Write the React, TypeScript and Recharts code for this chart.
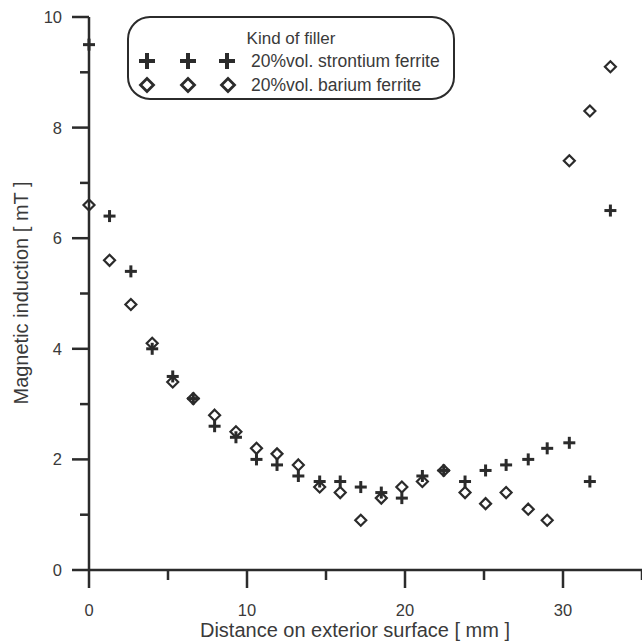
import React from 'react';
import { ScatterChart, Scatter, XAxis, YAxis } from 'recharts';

const distance = [0, 1.3, 2.65, 4.0, 5.3, 6.6, 7.95, 9.3, 10.6, 11.9, 13.25, 14.6, 15.9, 17.2, 18.5, 19.8, 21.1, 22.45, 23.8, 25.1, 26.4, 27.8, 29.0, 30.4, 31.7, 33.0];
const strontium = [9.5, 6.4, 5.4, 4.0, 3.5, 3.1, 2.6, 2.4, 2.0, 1.9, 1.7, 1.6, 1.6, 1.5, 1.4, 1.3, 1.7, 1.8, 1.6, 1.8, 1.9, 2.0, 2.2, 2.3, 1.6, 6.5];
const barium = [6.6, 5.6, 4.8, 4.1, 3.4, 3.1, 2.8, 2.5, 2.2, 2.1, 1.9, 1.5, 1.4, 0.9, 1.3, 1.5, 1.6, 1.8, 1.4, 1.2, 1.4, 1.1, 0.9, 7.4, 8.3, 9.1];

const xTicks = [0, 5, 10, 15, 20, 25, 30, 35];
const xLabeled = [0, 10, 20, 30];
const yTicks = [0, 1, 2, 3, 4, 5, 6, 7, 8, 9, 10];
const yLabeled = [0, 2, 4, 6, 8, 10];

const legendTitle = 'Kind of filler';
const seriesNames = ['20%vol. strontium ferrite', '20%vol. barium ferrite'];
const xTitle = 'Distance on exterior surface [ mm ]';
const yTitle = 'Magnetic induction [ mT ]';

const strontiumData = distance.map((d, i) => ({ x: d, y: strontium[i] }));
const bariumData = distance.map((d, i) => ({ x: d, y: barium[i] }));
const xTickMarks = xTicks.map((v) => ({ x: v, y: 0, major: xLabeled.includes(v) }));
const yTickMarks = yTicks.map((v) => ({ x: 0, y: v, major: yLabeled.includes(v) }));

const INK = '#2b2b2b';
const TEXT = '#3a3a3a';
const FONT = '"Liberation Sans", Arial, Helvetica, sans-serif';

const Plus = ({ cx, cy, size = 6, sw = 3 }: any) => (
  <g>
    <rect x={cx - size} y={cy - sw / 2} width={size * 2} height={sw} fill={INK} />
    <rect x={cx - sw / 2} y={cy - size} width={sw} height={size * 2} fill={INK} />
  </g>
);

const Diamond = ({ cx, cy, size = 5.5, sw = 2.2 }: any) => (
  <polygon
    points={`${cx},${cy - size} ${cx + size},${cy} ${cx},${cy + size} ${cx - size},${cy}`}
    fill="none"
    stroke={INK}
    strokeWidth={sw}
  />
);

const XTickMark = (p: any) => {
  const len = p.payload && p.payload.major ? 18 : 10;
  return <rect x={p.cx - 1.25} y={p.cy} width={2.5} height={len} fill={INK} />;
};

const YTickMark = (p: any) => {
  const len = p.payload && p.payload.major ? 17 : 9;
  return <rect x={p.cx - len} y={p.cy - 1.25} width={len} height={2.5} fill={INK} />;
};

const XTick = (props: any) => {
  const x = Number(props.x);
  const y = Number(props.y);
  const v = props.payload.value;
  return xLabeled.includes(v) ? (
    <text x={x} y={y + 46} textAnchor="middle" fontSize={16.5} fill={TEXT} stroke="none" fontFamily={FONT}>
      {v}
    </text>
  ) : (
    <g />
  );
};

const YTick = (props: any) => {
  const x = Number(props.x);
  const y = Number(props.y);
  const v = props.payload.value;
  return yLabeled.includes(v) ? (
    <text x={x - 27} y={y + 6} textAnchor="end" fontSize={16.5} fill={TEXT} stroke="none" fontFamily={FONT}>
      {v}
    </text>
  ) : (
    <g />
  );
};

const LegendBox = () => (
  <svg width={470} height={110} style={{ position: 'absolute', left: 0, top: 0, pointerEvents: 'none' }}>
    <rect x={128} y={17} width={326} height={82} rx={22} ry={22} fill="white" stroke={INK} strokeWidth={2} />
    <text x={291} y={44} textAnchor="middle" fontSize={17} fill={TEXT} fontFamily={FONT}>{legendTitle}</text>
    {[147, 188, 227].map((cx) => (
      <Plus key={'p' + cx} cx={cx} cy={61} size={8} sw={4} />
    ))}
    {[147, 188, 228].map((cx) => (
      <Diamond key={'d' + cx} cx={cx} cy={85} size={6.5} sw={2.8} />
    ))}
    <text x={251} y={67} fontSize={17.5} fill={TEXT} fontFamily={FONT}>{seriesNames[0]}</text>
    <text x={251} y={91} fontSize={17.5} fill={TEXT} fontFamily={FONT}>{seriesNames[1]}</text>
  </svg>
);

export default function App() {
  return (
    <div style={{ position: 'absolute', left: 0, top: 0, width: 642, height: 642, background: 'white' }}>
      <ScatterChart width={642} height={642} margin={{ top: 17, right: 0, bottom: 0, left: 0 }}>
        <XAxis
          type="number"
          dataKey="x"
          domain={[0, 35]}
          ticks={xTicks}
          interval={0}
          height={72}
          tickSize={0}
          tickMargin={0}
          tickLine={false}
          stroke={INK}
          strokeWidth={2.5}
          tick={<XTick />}
        />
        <YAxis
          type="number"
          dataKey="y"
          domain={[0, 10]}
          ticks={yTicks}
          interval={0}
          width={89}
          tickSize={0}
          tickMargin={0}
          tickLine={false}
          stroke={INK}
          strokeWidth={2.5}
          tick={<YTick />}
        />
        <Scatter data={xTickMarks} isAnimationActive={false} legendType="none" shape={(p: any) => <XTickMark {...p} />} />
        <Scatter data={yTickMarks} isAnimationActive={false} legendType="none" shape={(p: any) => <YTickMark {...p} />} />
        <Scatter name={seriesNames[1]} data={bariumData} isAnimationActive={false} shape={(p: any) => <Diamond cx={p.cx} cy={p.cy} />} />
        <Scatter name={seriesNames[0]} data={strontiumData} isAnimationActive={false} shape={(p: any) => <Plus cx={p.cx} cy={p.cy} />} />
        <text x={355} y={637} textAnchor="middle" fontSize={20} fill={TEXT} fontFamily={FONT}>{xTitle}</text>
        <text x={28} y={293} transform="rotate(-90 28 293)" textAnchor="middle" fontSize={20} fill={TEXT} fontFamily={FONT}>{yTitle}</text>
      </ScatterChart>
      <LegendBox />
    </div>
  );
}
